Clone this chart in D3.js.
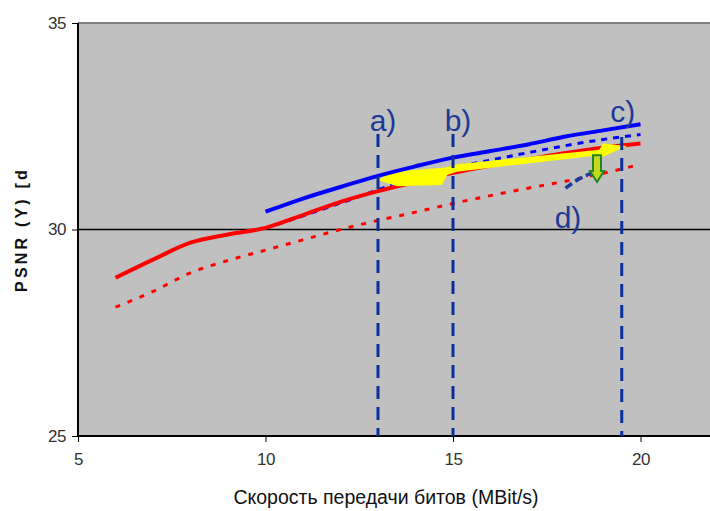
<!DOCTYPE html>
<html>
<head>
<meta charset="utf-8">
<script src="https://cdn.jsdelivr.net/npm/d3@7"></script>
<style>
  body { margin: 0; background: #fff; }
  svg { display: block; font-family: "Liberation Sans", Arial, sans-serif; }
</style>
</head>
<body>
<div id="chart"></div>
<script>
// bitrate (MBit/s) for each curve
const redRates = [6, 7, 8, 9, 10, 11, 12, 13, 14, 15, 16, 17, 18, 19, 20];
const blueRates = [10, 11, 12, 13, 14, 15, 16, 17, 18, 19, 20];

// PSNR values
const redSolid = [28.83, 29.27, 29.68, 29.88, 30.04, 30.35, 30.67, 30.93, 31.15, 31.37, 31.55, 31.7, 31.85, 31.98, 32.08];
const redDotted = [28.12, 28.5, 28.95, 29.25, 29.5, 29.75, 30.0, 30.22, 30.42, 30.63, 30.82, 31.0, 31.17, 31.36, 31.58];
const blueSolid = [30.43, 30.75, 31.03, 31.3, 31.53, 31.74, 31.9, 32.06, 32.25, 32.4, 32.55];
const blueDotted = [30.03, 30.33, 30.64, 30.96, 31.27, 31.5, 31.68, 31.86, 32.03, 32.18, 32.3];

const xTicks = [5, 10, 15, 20];
const yTicks = [25, 30, 35];

// annotation markers: a) b) c) at bitrates
const markRates = [13, 15, 19.5];
const markNames = ["a)", "b)", "c)"];

// yellow arrow outline (bitrate, PSNR)
const yellowShape = [
  [13.0, 31.2], [13.4, 31.4], [14.8, 31.5], [15.1, 31.58], [18.9, 31.93], [19.0, 32.08], [19.64, 32.02],
  [19.0, 31.76], [18.9, 31.8], [15.1, 31.4], [14.85, 31.32], [14.7, 31.08], [13.5, 31.05]
];

// d) pointer and green arrow
const dPointer = [[18.0, 31.0], [18.35, 31.22], [18.72, 31.37]];
const greenArrow = { x: 18.84, top: 31.8, bottom: 31.15 };

const width = 710, height = 511;

const svg = d3.select("#chart").append("svg")
  .attr("width", width)
  .attr("height", height);

const x = d3.scaleLinear().domain([5, 22]).range([78, 78 + 37.5 * 17]);
const y = d3.scaleLinear().domain([25, 35]).range([436, 23]);

// plot background
svg.append("rect")
  .attr("x", x(5)).attr("y", y(35))
  .attr("width", width - x(5)).attr("height", y(25) - y(35))
  .attr("fill", "#c0c0c0");

svg.append("line")  // top border
  .attr("x1", x(5)).attr("x2", width)
  .attr("y1", y(35)).attr("y2", y(35))
  .attr("stroke", "#808080").attr("stroke-width", 2);

// gridline at 30
svg.append("line")
  .attr("x1", x(5)).attr("x2", width)
  .attr("y1", y(30)).attr("y2", y(30))
  .attr("stroke", "#000").attr("stroke-width", 1.3);

// axes
const xAxis = svg.append("g")
  .attr("transform", `translate(0,${y(25)})`)
  .call(d3.axisBottom(x).tickValues(xTicks).tickSize(6).tickPadding(11));
xAxis.select(".domain").attr("d", `M${x(5)},0H${width}`).attr("stroke-width", 2);

const yAxis = svg.append("g")
  .attr("transform", `translate(${x(5)},0)`)
  .call(d3.axisLeft(y).tickValues(yTicks).tickSize(6).tickPadding(6));
yAxis.select(".domain").attr("d", `M0,${y(35)}V${y(25)}`).attr("stroke-width", 2);

svg.selectAll(".tick text")
  .attr("font-size", 17)
  .attr("fill", "#333")
  .attr("letter-spacing", -0.5)
  .attr("font-family", "'Liberation Sans', Arial, sans-serif");

// curves
const line = d3.line().x(d => x(d[0])).y(d => y(d[1])).curve(d3.curveMonotoneX);
const zipped = (rates, vals) => rates.map((r, i) => [r, vals[i]]);

svg.append("path")
  .attr("d", line(zipped(redRates, redDotted)))
  .attr("fill", "none").attr("stroke", "#ff0000")
  .attr("stroke-width", 3).attr("stroke-dasharray", "5,8");

svg.append("path")
  .attr("d", line(zipped(blueRates, blueDotted)))
  .attr("fill", "none").attr("stroke", "#0000ff")
  .attr("stroke-width", 3).attr("stroke-dasharray", "6,6");

svg.append("path")
  .attr("d", line(zipped(redRates, redSolid)))
  .attr("fill", "none").attr("stroke", "#ff0000").attr("stroke-width", 4);

svg.append("path")
  .attr("d", d3.line().x(d => x(d[0])).y(d => y(d[1]))(yellowShape) + "Z")
  .attr("fill", "#ffff00");

svg.append("path")
  .attr("d", line(zipped(blueRates, blueSolid)))
  .attr("fill", "none").attr("stroke", "#0000ff").attr("stroke-width", 4);

// dashed markers
const markColor = "#0a2e9e";
svg.selectAll(".mark")
  .data(markRates)
  .join("line")
  .attr("class", "mark")
  .attr("x1", d => x(d)).attr("x2", d => x(d))
  .attr("y1", (d, i) => i === 2 ? 137 : 134).attr("y2", y(25))
  .attr("stroke", markColor).attr("stroke-width", 3)
  .attr("stroke-dasharray", "13,8");

const labelColor = "#1c3a96";
const labelPos = [[x(13) + 5, 131], [x(15) + 5, 131], [x(19.5) + 1, 122]];
svg.selectAll(".mlabel")
  .data(markNames)
  .join("text")
  .attr("class", "mlabel")
  .attr("x", (d, i) => labelPos[i][0])
  .attr("y", (d, i) => labelPos[i][1])
  .attr("text-anchor", "middle")
  .attr("font-size", 30)
  .attr("fill", labelColor)
  .text(d => d);

svg.append("text")
  .attr("x", 568).attr("y", 228)
  .attr("text-anchor", "middle")
  .attr("font-size", 30)
  .attr("fill", labelColor)
  .text("d)");

svg.append("path")
  .attr("d", d3.line().x(d => x(d[0])).y(d => y(d[1])).curve(d3.curveMonotoneX)(dPointer))
  .attr("fill", "none").attr("stroke", "#1a3aa0")
  .attr("stroke-width", 3.5).attr("stroke-dasharray", "8,4");

// green down arrow
const gx = x(greenArrow.x), gt = y(greenArrow.top), gb = y(greenArrow.bottom);
const headTop = gb - 11;
svg.append("path")
  .attr("d", `M${gx - 4},${gt}H${gx + 4}V${headTop}H${gx + 7}L${gx},${gb}L${gx - 7},${headTop}H${gx - 4}Z`)
  .attr("fill", "#c6d81e").attr("stroke", "#1e8a1e").attr("stroke-width", 2);

// axis titles
svg.append("text")
  .attr("transform", `translate(27,${y(30)}) rotate(-90)`)
  .attr("text-anchor", "middle")
  .attr("font-size", 16)
  .attr("font-weight", "bold")
  .attr("letter-spacing", 3.2)
  .attr("fill", "#111")
  .text("PSNR (Y) [d");

svg.append("text")
  .attr("x", 386).attr("y", 504)
  .attr("text-anchor", "middle")
  .attr("font-size", 19.5)
  .attr("fill", "#111")
  .text("Скорость передачи битов (MBit/s)");
</script>
</body>
</html>
